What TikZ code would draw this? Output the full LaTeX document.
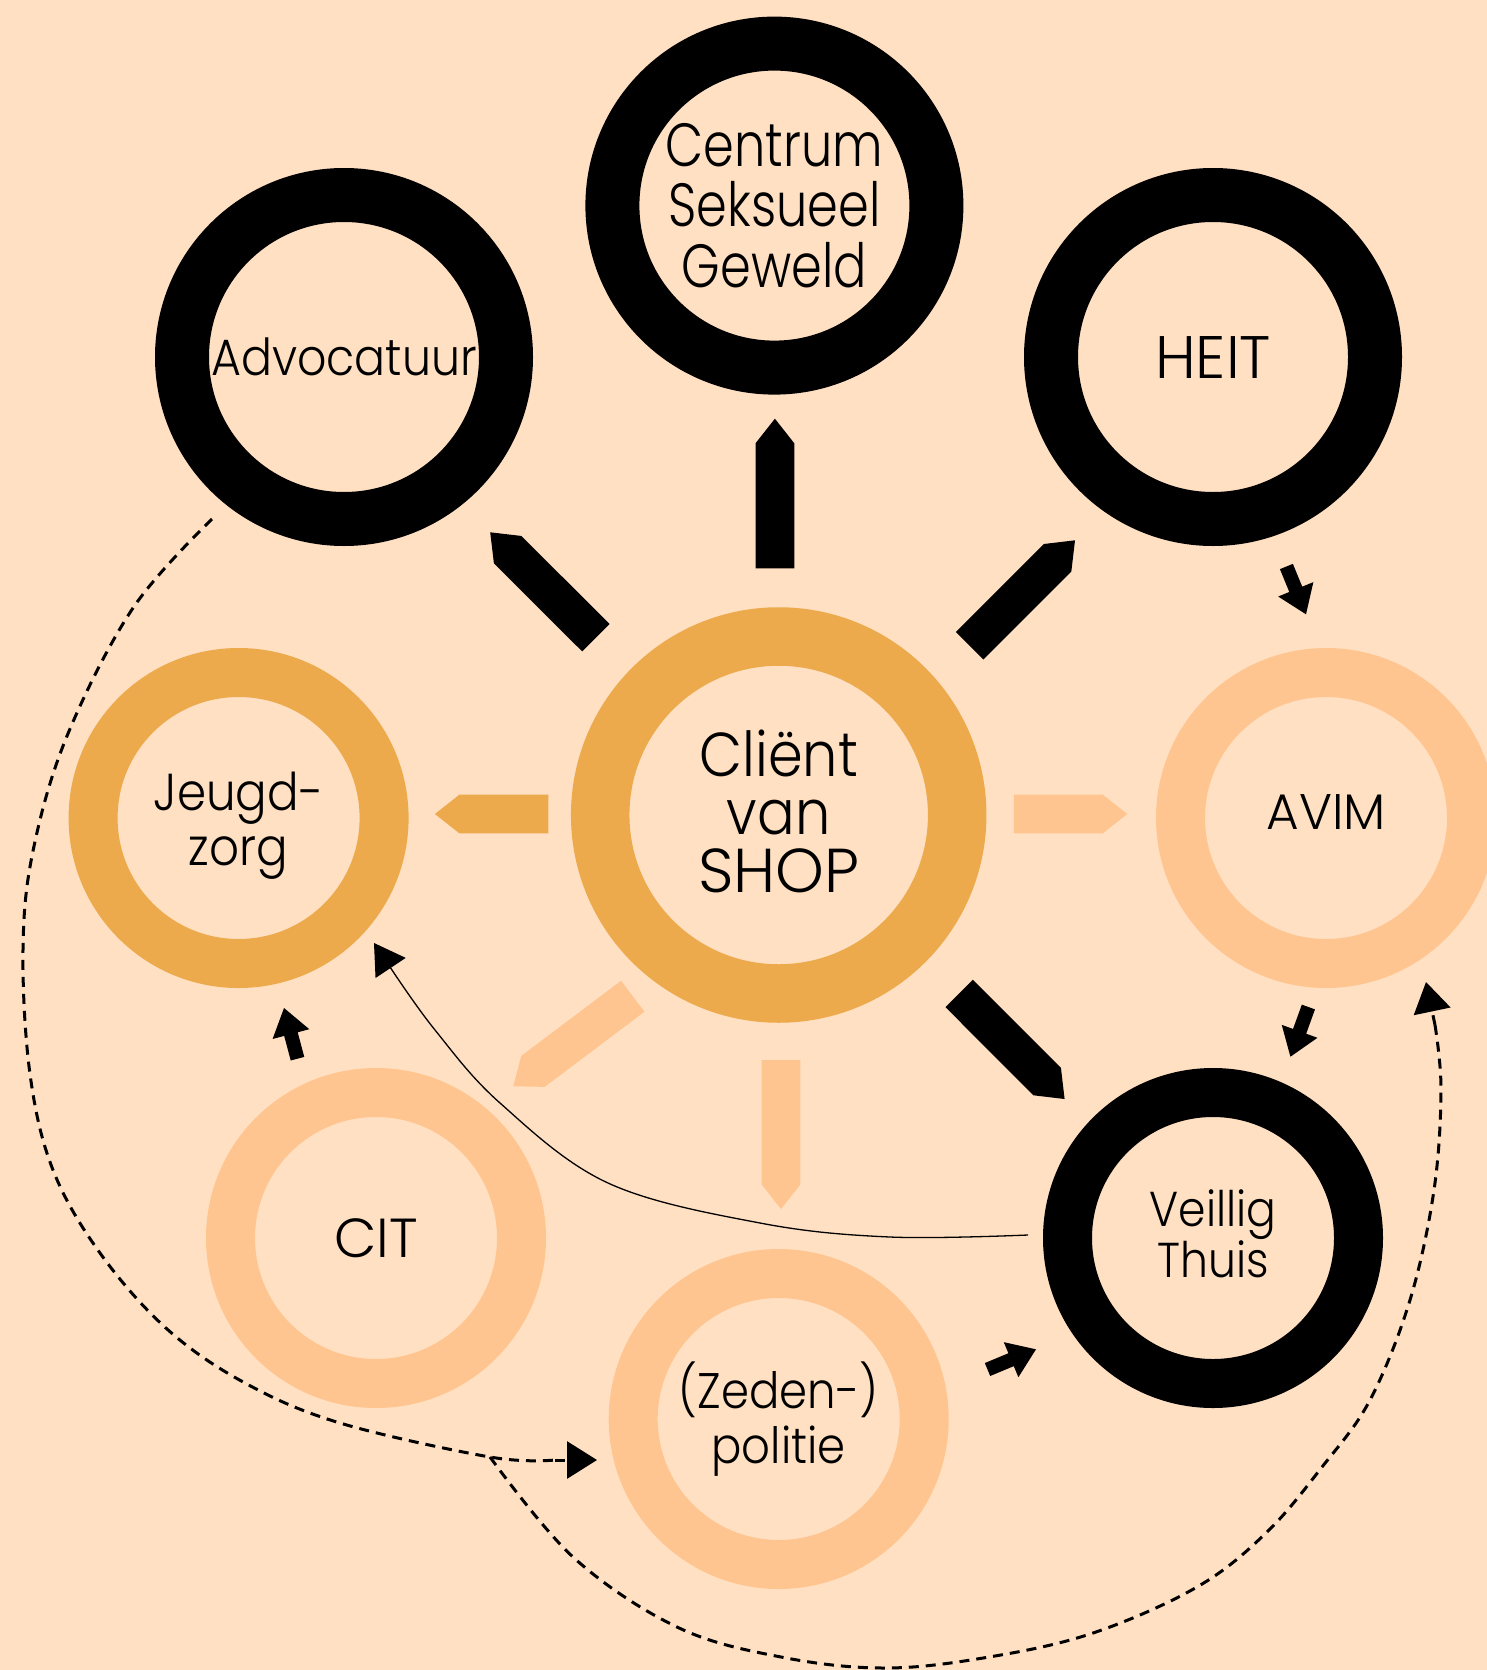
\documentclass[tikz,border=0pt]{standalone}
\usepackage{fontspec}
\setmainfont{Poppins}[UprightFont = * Light, FakeStretch=0.9]
\newfontfamily\condfont{Poppins}[UprightFont = * Light, FakeStretch=0.81]
\newfontfamily\widefont{Poppins}[UprightFont = * Light]
\usetikzlibrary{calc,arrows.meta}
\definecolor{bg}{HTML}{FFE0C2}
\definecolor{orng}{HTML}{ECAA4C}
\definecolor{peach}{HTML}{FFC590}
\newcommand\pentarrow[3]{%
  \coordinate (pa-s) at ($(#2)!24.6pt!(#1)$);
  \fill[#3] ($(#1)!19.4pt!90:(#2)$) -- ($(pa-s)!19.4pt!90:(#2)$) -- (#2) -- ($(pa-s)!19.4pt!-90:(#2)$) -- ($(#1)!19.4pt!-90:(#2)$) -- cycle;}
\newcommand\blockarrow[2]{%
  \coordinate (ba-h) at ($(#2)!27pt!(#1)$);
  \fill[black] ($(#1)!7pt!90:(#2)$) -- ($(ba-h)!7pt!90:(#2)$) -- ($(ba-h)!19pt!90:(#2)$) -- (#2) -- ($(ba-h)!19pt!-90:(#2)$) -- ($(ba-h)!7pt!-90:(#2)$) -- ($(#1)!7pt!-90:(#2)$) -- cycle;}
\tikzset{
  ringnode/.style={circle, inner sep=0pt, fill=bg, align=center, text=black},
  bigblack/.style={ringnode, draw=black, line width=54pt, minimum size=324pt},
  smallblack/.style={ringnode, draw=black, line width=49pt, minimum size=291pt},
  clientring/.style={ringnode, draw=orng, line width=58.5pt, minimum size=357pt},
  orngring/.style={ringnode, draw=orng, line width=49pt, minimum size=291pt},
  peachring/.style={ringnode, draw=peach, line width=49pt, minimum size=291pt},
  labeltext/.style={inner sep=0pt, align=center, text=black},
  dashline/.style={draw=black, line width=3pt, dash pattern=on 10pt off 7pt},
  tipstyle/.style={-{Triangle[length=30pt,width=37pt]}},
}
\begin{document}
\begin{tikzpicture}[x=1pt,y=-1pt]
\fill[bg] (0,0) rectangle (1487,1670);
\useasboundingbox (0,0) rectangle (1487,1670);

% dashed connectors (drawn first, beneath)
\coordinate (d1s) at (212,519);
\coordinate (dj) at (490,1457);
\coordinate (d1e) at (597,1460);
\coordinate (d2e) at (1426,982);
\draw[dashline] plot[smooth,tension=0.6] coordinates {(d1s) (133,608) (67,736) (33,851) (23,950) (30,1074) (53,1170) (100,1253) (167,1329) (245,1383) (340,1423) (dj) (555,1460)};
\draw[dashline,tipstyle] (555,1460) -- (d1e);
\draw[dashline] plot[smooth,tension=0.6] coordinates {(dj) (573,1557) (677,1627) (781,1657) (885,1668) (989,1657) (1093,1633) (1197,1587) (1266,1533) (1322,1467) (1370,1400) (1410,1300) (1434,1190) (1441,1090) (1435,1025)};
\draw[dashline,tipstyle] (1435,1025) -- (d2e);

% nodes
\node[bigblack, font=\condfont\fontsize{61}{60.6}\selectfont] (csg) at (774.4,205.6) {Centrum\\Seksueel\\Geweld};
\node[bigblack, font=\fontsize{51}{55}\selectfont] (adv) at (344,357) {Advocatuur};
\node[bigblack, font=\widefont\fontsize{60}{60}\selectfont] (heit) at (1213,357) {HEIT};
\node[clientring] (client) at (778.7,815) {};
\node[labeltext, font=\fontsize{62}{58}\selectfont] (client-t) at (778.7,811) {Cliënt\\van\\{\widefont SHOP}};
\node[orngring] (jz) at (238.6,818) {};
\node[labeltext, font=\fontsize{52}{55}\selectfont] (jz-t) at (238.6,826) {Jeugd-\\zorg};
\node[peachring] (avim) at (1326,818) {};
\node[labeltext, font=\widefont\fontsize{50}{55}\selectfont] (avim-t) at (1326,812) {AVIM};
\node[peachring, font=\widefont\fontsize{55}{55}\selectfont] (cit) at (376,1238) {CIT};
\node[peachring, font=\fontsize{50}{55}\selectfont] (pol) at (778.7,1419) {(Zeden-)\\politie};
\node[smallblack] (vt) at (1213,1238) {};
\node[labeltext, font=\fontsize{49}{51}\selectfont] (vt-t) at (1213,1234) {Veillig\\Thuis};

% thin curved arrow Veilig Thuis -> Jeugdzorg
\coordinate (ts) at (1028,1235);
\coordinate (te) at (374,943);
\draw[line width=1.3pt, -{Triangle[length=30pt,width=36pt]}] plot[smooth,tension=0.6] coordinates {(ts) (890,1237) (760,1223) (608,1183) (500,1103) (435,1030) (392,970)} -- (te);

% pentagon arrows from client
\coordinate (p1b) at (595.9,637.7); \coordinate (p1t) at (490.2,532.3);
\coordinate (p2b) at (774.9,568.3); \coordinate (p2t) at (774.9,418.7);
\coordinate (p3b) at (969.6,645.8); \coordinate (p3t) at (1075,540.3);
\coordinate (p4b) at (959.1,993.4); \coordinate (p4t) at (1064.6,1099);
\coordinate (p5b) at (548.3,814); \coordinate (p5t) at (434.9,814);
\coordinate (p6b) at (1013.9,814); \coordinate (p6t) at (1127.3,814);
\coordinate (p7b) at (632.75,996.2); \coordinate (p7t) at (513.3,1086.2);
\coordinate (p8b) at (781,1060); \coordinate (p8t) at (781,1209);
\pentarrow{p1b}{p1t}{black}
\pentarrow{p2b}{p2t}{black}
\pentarrow{p3b}{p3t}{black}
\pentarrow{p4b}{p4t}{black}
\pentarrow{p5b}{p5t}{orng}
\pentarrow{p6b}{p6t}{peach}
\pentarrow{p7b}{p7t}{peach}
\pentarrow{p8b}{p8t}{peach}

% small block arrows
\coordinate (b1s) at (297.5,1058.7); \coordinate (b1t) at (284,1008);
\coordinate (b2s) at (1286.4,566.5); \coordinate (b2t) at (1306,614.3);
\coordinate (b3s) at (1308.4,1007); \coordinate (b3t) at (1290.4,1056.7);
\coordinate (b4s) at (987.5,1369.5); \coordinate (b4t) at (1036,1349.3);
\blockarrow{b1s}{b1t}
\blockarrow{b2s}{b2t}
\blockarrow{b3s}{b3t}
\blockarrow{b4s}{b4t}
\end{tikzpicture}
\end{document}
